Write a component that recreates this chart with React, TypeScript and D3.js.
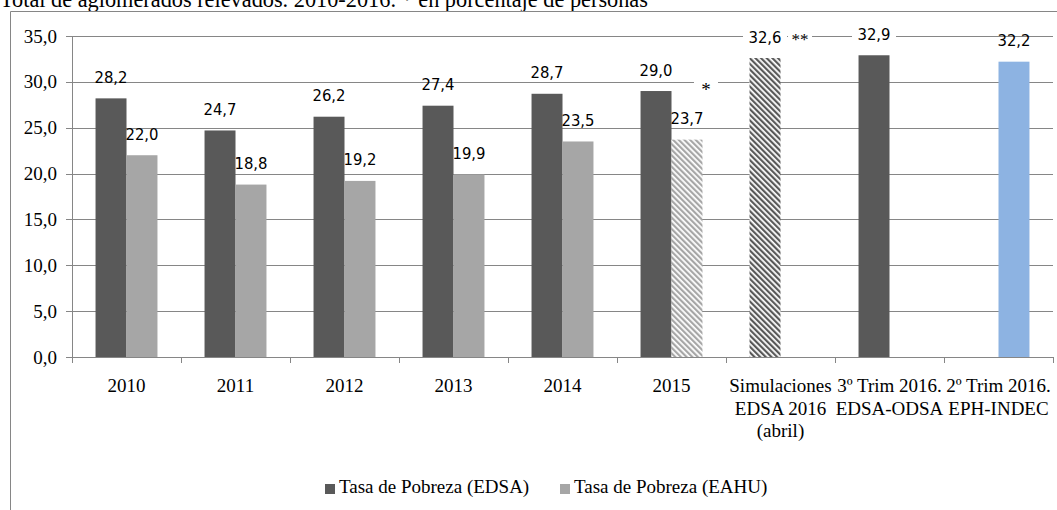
import React from 'react';
import * as d3 from 'd3';

const title = 'Total de aglomerados relevados. 2010-2016. * en porcentaje de personas';
const categories: string[][] = [
  ['2010'], ['2011'], ['2012'], ['2013'], ['2014'], ['2015'],
  ['Simulaciones', 'EDSA 2016', '(abril)'],
  ['3º Trim 2016.', 'EDSA-ODSA'],
  ['2º Trim 2016.', 'EPH-INDEC'],
];
const seriesNames = ['Tasa de Pobreza (EDSA)', 'Tasa de Pobreza (EAHU)'];
const edsaValues: (number | null)[] = [28.2, 24.7, 26.2, 27.4, 28.7, 29.0, 32.6, 32.9, null];
const eahuValues: (number | null)[] = [22.0, 18.8, 19.2, 19.9, 23.5, 23.7, null, null, 32.2];
const yTicks = [0, 5, 10, 15, 20, 25, 30, 35];
const noteCats = [5, 6];
const noteSeries = [1, 0];
const noteTexts = ['*', '**'];

const W = 1057;
const H = 510;
const DARK = '#595959';
const LIGHT = '#a6a6a6';
const BLUE = '#8db3e2';
const AXIS = '#868686';
const SERIF = '"Liberation Serif", "Times New Roman", serif';
const SANS = '"Liberation Sans Narrow", "DejaVu Sans Condensed", "Liberation Sans", sans-serif';

const seriesValues = [edsaValues, eahuValues];
const seriesColors = [DARK, LIGHT];
const specialFill: Record<string, string> = {
  '0-6': 'url(#hatchDark)',
  '1-5': 'url(#hatchLight)',
  '1-8': BLUE,
};
const boxedLabels = new Set(['0-6', '0-7']);

const fmt = (v: number) => d3.format('.1f')(v).replace('.', ',');

export default function App() {
  const left = 72, right = 1053, top = 36, bottom = 357;
  const y = d3.scaleLinear().domain([0, 35]).range([bottom, top]);
  const catKeys = categories.map((_, i) => String(i));
  const x0 = d3.scaleBand().domain(catKeys).range([left, right]).paddingInner(0).paddingOuter(0);
  const x1 = d3.scaleBand().domain(['0', '1']).range([0, x0.bandwidth()]).paddingInner(0).paddingOuter(0.76);
  const bw = x1.bandwidth();

  const bars: JSX.Element[] = [];
  const labels: JSX.Element[] = [];
  seriesValues.forEach((vals, s) => {
    vals.forEach((v, i) => {
      if (v == null) return;
      const key = `${s}-${i}`;
      const bx = (x0(String(i)) as number) + (x1(String(s)) as number);
      const by = y(v);
      const fill = specialFill[key] || seriesColors[s];
      bars.push(<rect key={'b' + key} x={bx} y={by} width={bw} height={bottom - by} fill={fill} />);
      const cx = bx + bw / 2;
      const base = by - 15.5;
      if (boxedLabels.has(key)) {
        labels.push(<rect key={'lb' + key} x={cx - 22} y={base - 16} width={44} height={21} fill="#fff" />);
      }
      labels.push(
        <text key={'l' + key} x={cx} y={base} textAnchor="middle" fontFamily={SANS} fontSize={16.5} fill="#000">
          {fmt(v)}
        </text>
      );
    });
  });

  const notes = noteCats.map((c, k) => {
    const s = noteSeries[k];
    const v = seriesValues[s][c] as number;
    const bx = (x0(String(c)) as number) + (x1(String(s)) as number);
    const cx = bx + bw / 2;
    const isStar = noteTexts[k] === '*';
    const nx = isStar ? cx + 19 : cx + 35;
    const ny = isStar ? y(v) - 44 : y(v) - 13;
    return (
      <g key={'n' + k}>
        <rect x={nx - 12} y={ny - 15} width={24} height={18} fill="#fff" />
        <text x={nx} y={ny} textAnchor="middle" fontFamily={SERIF} fontSize={isStar ? 19 : 17} fill="#000">
          {noteTexts[k]}
        </text>
      </g>
    );
  });

  return (
    <svg width={W} height={H} style={{ position: 'absolute', left: 0, top: 0, background: '#fff' }}>
      <defs>
        <pattern id="hatchDark" patternUnits="userSpaceOnUse" width={4} height={4} patternTransform="rotate(-45)">
          <rect width={4} height={4} fill="#fff" />
          <rect x={0} y={0} width={2.2} height={4} fill={DARK} />
        </pattern>
        <pattern id="hatchLight" patternUnits="userSpaceOnUse" width={4} height={4} patternTransform="rotate(-45)">
          <rect width={4} height={4} fill="#fff" />
          <rect x={0} y={0} width={2.2} height={4} fill={LIGHT} />
        </pattern>
      </defs>
      <rect x={0} y={0} width={W} height={H} fill="#fff" />
      <text x={0} y={7} fontFamily={SERIF} fontSize={22.3} fill="#000">{title}</text>
      <path d={`M10.5,${H}V11.5H${W}`} fill="none" stroke={AXIS} strokeWidth={1} />

      {yTicks.map((t) => (
        <g key={'g' + t}>
          <line x1={left - 6} x2={right} y1={Math.round(y(t)) + 0.5} y2={Math.round(y(t)) + 0.5} stroke={AXIS} strokeWidth={1} />
          <text x={57} y={y(t) + 6.5} textAnchor="end" fontFamily={SERIF} fontSize={19} fill="#000">{fmt(t)}</text>
        </g>
      ))}
      {bars}
      <line x1={left + 0.5} x2={left + 0.5} y1={top} y2={bottom} stroke={AXIS} />
      <line x1={left} x2={right} y1={bottom + 0.5} y2={bottom + 0.5} stroke={AXIS} />
      {d3.range(categories.length + 1).map((i) => {
        const tx = Math.round(left + i * x0.step()) + 0.5;
        return <line key={'t' + i} x1={tx} x2={tx} y1={bottom} y2={bottom + 6} stroke={AXIS} />;
      })}
      {categories.map((lines, i) => {
        const cx = (x0(String(i)) as number) + x0.bandwidth() / 2;
        return (
          <text key={'c' + i} textAnchor="middle" fontFamily={SERIF} fontSize={19} fill="#000">
            {lines.map((ln, j) => (
              <tspan key={j} x={cx} y={392 + j * 22.5}>{ln}</tspan>
            ))}
          </text>
        );
      })}
      {labels}
      {notes}

      {seriesNames.map((n, s) => {
        const lx = s === 0 ? 325 : 560;
        return (
          <g key={'lg' + s}>
            <rect x={lx} y={484} width={10} height={10} fill={seriesColors[s]} />
            <text x={lx + 14} y={493} fontFamily={SERIF} fontSize={19} fill="#000">{n}</text>
          </g>
        );
      })}
    </svg>
  );
}
